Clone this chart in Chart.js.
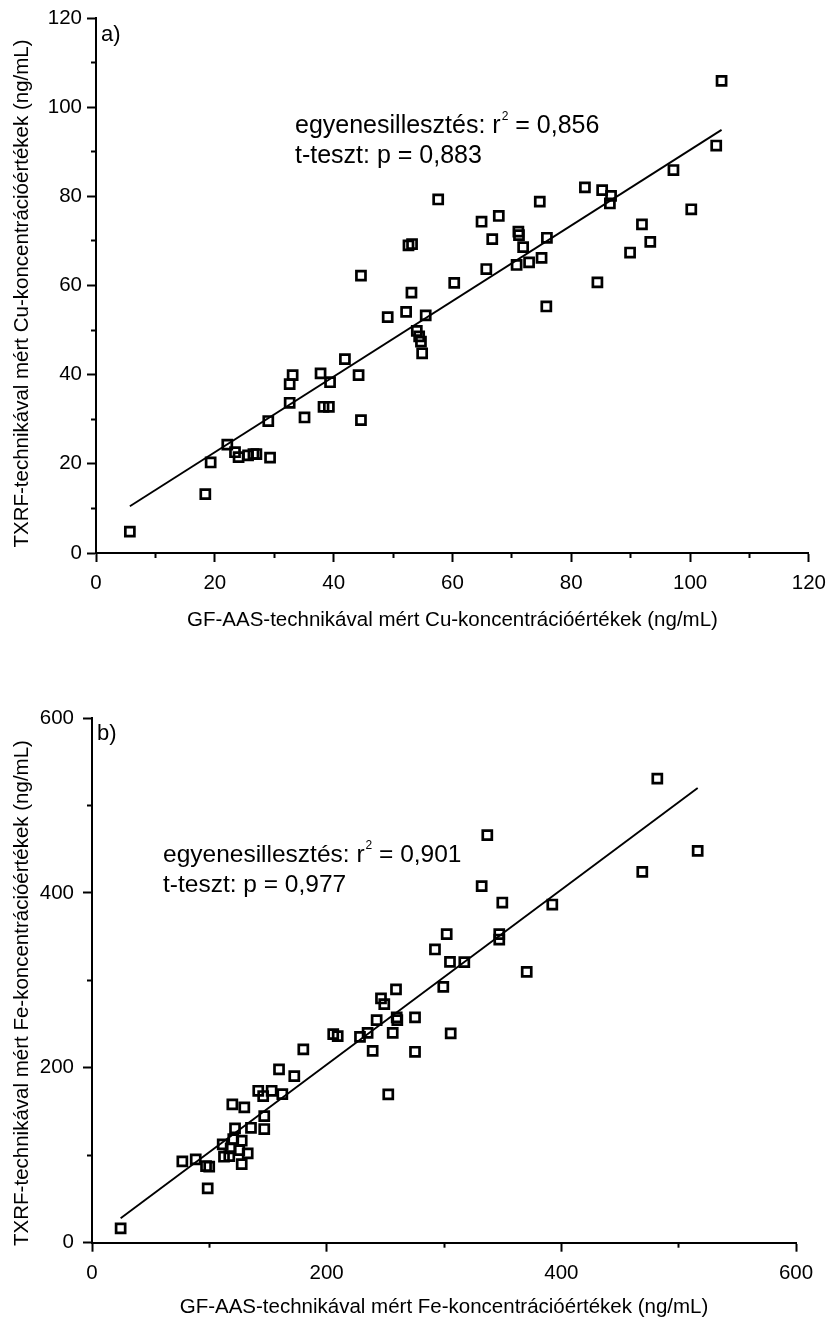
<!DOCTYPE html>
<html><head><meta charset="utf-8">
<script src="https://cdn.jsdelivr.net/npm/chart.js@4/dist/chart.umd.min.js"></script>
<style>
html,body{margin:0;padding:0;background:#fff;overflow:hidden;width:835px;height:1319px;}
canvas{position:absolute;left:0;}
#c1{top:0;}
#c2{top:660px;}
</style></head><body>
<canvas id="c1" width="835" height="660" style="width:835px;height:660px"></canvas>
<canvas id="c2" width="835" height="670" style="width:835px;height:670px"></canvas>
<script>
// ---- Data: panel a) Cu ----
const cuGfaas = [5.7,18.4,19.3,22.1,23.4,24.0,25.6,26.5,27.0,29.3,29.0,32.6,32.6,33.1,35.1,37.8,38.3,39.2,39.4,41.9,44.2,44.6,44.6,49.1,52.2,53.1,52.6,53.2,55.5,54.0,54.4,54.7,54.9,60.3,57.6,64.9,67.8,66.7,71.1,71.2,71.9,75.9,75.0,72.9,70.8,65.7,74.7,82.3,85.2,86.7,86.5,97.2,104.4,105.3,100.2,91.9,93.3,89.9,84.4,75.8];
const cuTxrf  = [4.8,13.2,20.3,24.3,22.6,21.5,21.9,22.2,22.2,21.4,29.6,33.7,37.9,39.9,30.4,40.3,32.8,32.8,38.3,43.5,39.9,29.8,62.2,52.9,54.1,58.4,69.0,69.3,53.3,49.8,48.6,47.4,44.8,60.6,79.3,74.3,75.6,70.4,72.1,71.3,68.6,70.7,66.2,65.2,64.6,63.7,78.8,82.0,81.4,80.1,78.4,85.9,91.4,105.9,77.1,73.7,69.8,67.4,60.7,55.3];
const cuFitX = [5.7, 105.3];
const cuFitY = [10.5, 94.9];
const cuTicks = [0, 20, 40, 60, 80, 100, 120];

// ---- Data: panel b) Fe ----
const feGfaas = [24.4,77.0,88.4,97.2,99.9,98.6,111.4,112.5,117.0,118.2,120.4,121.9,119.6,125.5,127.6,127.6,129.8,132.7,135.5,141.7,145.9,146.8,146.8,153.1,162.2,159.4,172.4,180.1,205.6,209.4,228.4,234.9,239.2,242.6,246.3,249.1,252.5,256.3,259.1,259.7,260.2,275.3,275.3,305.1,317.3,370.5,299.4,305.7,481.8,516.2,469.0,336.9,332.1,349.7,392.3,302.3,292.3,347.1,347.1];
const feTxrf  = [16.4,93.0,95.3,87.7,86.9,62.2,112.4,98.3,99.1,107.9,118.5,130.7,158.2,105.9,116.6,89.9,154.7,102.2,131.4,173.7,167.7,144.8,130.0,173.7,169.9,198.2,190.5,221.0,238.5,236.2,235.4,240.0,219.4,254.5,279.3,272.8,169.6,240.0,289.6,257.6,254.5,257.6,218.3,321.1,320.8,309.7,292.6,239.3,530.7,448.0,424.0,466.0,407.7,389.0,386.7,352.8,335.3,352.8,346.7];
const feFitX = [24.4, 516.2];
const feFitY = [27.9, 520.0];
const feTicks = [0, 200, 400, 600];

const FONT = "'Liberation Sans', Arial, sans-serif";

const textPlugin = {
  id: 'texts',
  afterDraw(chart, args, o) {
    const ctx = chart.ctx;
    ctx.save();
    ctx.fillStyle = '#000';
    ctx.textAlign = 'left';
    ctx.textBaseline = 'alphabetic';
    ctx.font = o.panelSize + 'px ' + FONT;
    ctx.fillText(o.panel, o.panelX, o.panelY);
    ctx.font = o.size + 'px ' + FONT;
    let x = o.annX;
    ctx.fillText(o.line1a, x, o.annY1);
    x += ctx.measureText(o.line1a).width + 1;
    ctx.font = o.supSize + 'px ' + FONT;
    ctx.fillText('2', x, o.annY1 - o.supRaise);
    x += ctx.measureText('2').width;
    ctx.font = o.size + 'px ' + FONT;
    ctx.fillText(o.line1b, x, o.annY1);
    ctx.fillText(o.line2, o.annX, o.annY2);
    ctx.translate(o.ytX, o.ytY);
    ctx.rotate(-Math.PI / 2);
    ctx.textAlign = 'center';
    ctx.textBaseline = 'middle';
    ctx.font = o.ytSize + 'px ' + FONT;
    ctx.fillText(o.yTitle, 0, 0);
    ctx.restore();
  }
};

function makeChart(id, p) {
  const pts = p.xs.map((v, i) => ({x: v, y: p.ys[i]}));
  const fit = p.fx.map((v, i) => ({x: v, y: p.fy[i]}));
  const major = (ticks) => (s) => { s.ticks = ticks.map(v => ({value: v})); };
  const minorT = (mx, step) => (s) => { const t = []; for (let v = step / 2; v < mx; v += step) t.push({value: v}); s.ticks = t; };
  new Chart(document.getElementById(id), {
    data: {
      datasets: [
        {type: 'line', data: fit, borderColor: '#000', borderWidth: 1.9, pointRadius: 0, fill: false, xAxisID: 'x', yAxisID: 'y'},
        {type: 'scatter', data: pts, pointStyle: 'rect', pointRadius: 6.4, pointBorderWidth: 2.7,
         pointBorderColor: '#000', pointBackgroundColor: 'rgba(0,0,0,0)', borderColor: '#000', backgroundColor: 'rgba(0,0,0,0)', xAxisID: 'x', yAxisID: 'y'}
      ]
    },
    options: {
      responsive: false, animation: false, events: [],
      layout: {padding: {left: 0, top: p.padTop, right: p.padRight, bottom: 0}},
      plugins: {legend: {display: false}, tooltip: {enabled: false}, texts: p.texts},
      scales: {
        x: {type: 'linear', position: 'bottom', min: p.max0, max: p.maxX,
            afterBuildTicks: major(p.ticks),
            ticks: {color: '#000', font: {family: FONT, size: 20.5}, padding: p.xLabPad, maxRotation: 0},
            grid: {drawOnChartArea: false, drawTicks: true, tickLength: 9, tickWidth: 2, tickColor: '#000'},
            border: {display: true, color: '#000', width: 2},
            title: {display: true, text: p.xTitle, color: '#000', font: {family: FONT, size: 20.5}, padding: {top: 0, bottom: p.xtPad}},
            afterFit: (s) => { s.height = p.xH; }},
        xm: {type: 'linear', position: 'bottom', weight: -1, min: 0, max: p.maxX,
            afterBuildTicks: minorT(p.maxX, p.ticks[1]),
            ticks: {display: false},
            grid: {drawOnChartArea: false, drawTicks: true, tickLength: 5, tickWidth: 2, tickColor: '#000'},
            border: {display: false},
            afterFit: (s) => { s.height = 0; }},
        y: {type: 'linear', position: 'left', min: 0, max: p.maxX,
            afterBuildTicks: major(p.ticks),
            ticks: {color: '#000', font: {family: FONT, size: 20.5}, padding: p.yLabPad},
            grid: {drawOnChartArea: false, drawTicks: true, tickLength: 9, tickWidth: 2, tickColor: '#000'},
            border: {display: true, color: '#000', width: 2},
            afterFit: (s) => { s.width = p.yW; }},
        ym: {type: 'linear', position: 'left', weight: -1, min: 0, max: p.maxX,
            afterBuildTicks: minorT(p.maxX, p.ticks[1]),
            ticks: {display: false},
            grid: {drawOnChartArea: false, drawTicks: true, tickLength: 5, tickWidth: 2, tickColor: '#000'},
            border: {display: false},
            afterFit: (s) => { s.width = 0; }}
      }
    },
    plugins: [textPlugin]
  });
}

makeChart('c1', {
  xs: cuGfaas, ys: cuTxrf, fx: cuFitX, fy: cuFitY, ticks: cuTicks, max0: 0, maxX: 120,
  padTop: 18, padRight: 19, xH: 107, yW: 96, xLabPad: 9, yLabPad: 5, xtPad: 27,
  xTitle: 'GF-AAS-technikával mért Cu-koncentrációértékek (ng/mL)',
  texts: {panel: 'a)', panelSize: 22, panelX: 101, panelY: 41,
          size: 25, supSize: 12, supRaise: 13, annX: 295, annY1: 133, annY2: 163,
          line1a: 'egyenesillesztés: r', line1b: ' = 0,856', line2: 't-teszt: p = 0,883',
          yTitle: 'TXRF-technikával mért Cu-koncentrációértékek (ng/mL)', ytX: 22, ytY: 293.5, ytSize: 20.5}
});

makeChart('c2', {
  xs: feGfaas, ys: feTxrf, fx: feFitX, fy: feFitY, ticks: feTicks, max0: 0, maxX: 600,
  padTop: 58, padRight: 39, xH: 87.3, yW: 92, xLabPad: 9, yLabPad: 9, xtPad: 10,
  xTitle: 'GF-AAS-technikával mért Fe-koncentrációértékek (ng/mL)',
  texts: {panel: 'b)', panelSize: 22, panelX: 97, panelY: 80,
          size: 24.5, supSize: 12, supRaise: 13, annX: 163, annY1: 202, annY2: 232,
          line1a: 'egyenesillesztés: r', line1b: ' = 0,901', line2: 't-teszt: p = 0,977',
          yTitle: 'TXRF-technikával mért Fe-koncentrációértékek (ng/mL)', ytX: 22, ytY: 333, ytSize: 20.5}
});
</script>
</body></html>
